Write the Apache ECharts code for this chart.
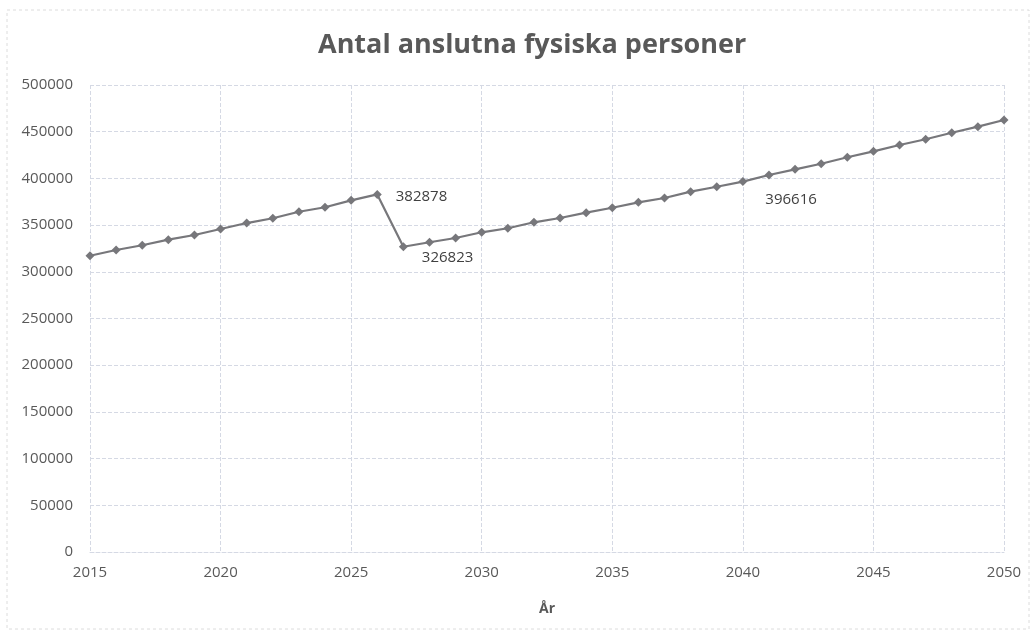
<!DOCTYPE html>
<html>
<head>
<meta charset="utf-8">
<script src="https://cdn.jsdelivr.net/npm/echarts@6/dist/echarts.min.js"></script>
<style>
html,body{margin:0;padding:0;background:#fff;}
#chart{width:1032px;height:632px;}
</style>
</head>
<body>
<div id="chart"></div>
<script>
const years = [2015,2016,2017,2018,2019,2020,2021,2022,2023,2024,2025,2026,2027,2028,2029,2030,2031,2032,2033,2034,2035,2036,2037,2038,2039,2040,2041,2042,2043,2044,2045,2046,2047,2048,2049,2050];
const values = [317200,323300,328400,334400,339400,345800,352200,357300,364300,369100,376500,382878,326823,331600,336200,342300,346600,353000,357600,363300,368600,374400,379000,385800,391100,396616,403600,409700,415700,422600,429000,435800,441900,448900,455400,462500];
const labeledYears = [2026,2027,2040];
const yTicks = [0,50000,100000,150000,200000,250000,300000,350000,400000,450000,500000];
const xTicks = [2015,2020,2025,2030,2035,2040,2045,2050];
const title = 'Antal anslutna fysiska personer';
const xName = 'År';

const labelOffsets = {2026:[9,2], 2027:[9,11], 2040:[13,18]};
const seriesData = years.map((y,i)=>{
  const d = {value:[y, values[i]]};
  if (labeledYears.includes(y)) {
    d.label = {show:true, position:'right', offset:labelOffsets[y], formatter: String(values[i])};
  }
  return d;
});

const gridColor = '#d5d9e4';
const chart = echarts.init(document.getElementById('chart'), null, {renderer:'canvas'});
chart.setOption({
  animation:false,
  backgroundColor:'#ffffff',
  title:{
    text:title, left:313, top:27,
    textStyle:{fontFamily:'Open Sans', fontWeight:'bold', fontSize:27, color:'#595959'}
  },
  graphic:[{
    type:'rect', shape:{x:7,y:10,width:1022,height:619},
    style:{fill:'none', stroke:'#dcdcdc', lineWidth:1, lineDash:[3,3]}, silent:true
  }],
  grid:{left:90, right:28, top:85, bottom:80},
  xAxis:{
    type:'value', min:xTicks[0], max:xTicks[xTicks.length-1], interval:5,
    name:xName, nameLocation:'middle', nameGap:50,
    nameTextStyle:{fontFamily:'Open Sans', fontWeight:'bold', fontSize:14, color:'#595959'},
    axisLine:{show:true, lineStyle:{color:gridColor, type:'dashed'}},
    axisTick:{show:false},
    axisLabel:{fontFamily:'Open Sans', fontSize:15, color:'#595959', margin:13, formatter:v=>String(v)},
    splitLine:{show:true, lineStyle:{color:gridColor, type:'dashed', width:1}}
  },
  yAxis:{
    type:'value', min:yTicks[0], max:yTicks[yTicks.length-1], interval:50000,
    axisLine:{show:false}, axisTick:{show:false},
    axisLabel:{fontFamily:'Open Sans', fontSize:15, color:'#595959', margin:17, formatter:v=>String(v)},
    splitLine:{show:true, lineStyle:{color:gridColor, type:'dashed', width:1}}
  },
  series:[{
    type:'line', data:seriesData,
    symbol:'diamond', symbolSize:9,
    lineStyle:{color:'#77777b', width:2.2},
    itemStyle:{color:'#77777b'},
    label:{show:false, fontFamily:'Open Sans', fontSize:15, color:'#404040'}
  }]
});
</script>
</body>
</html>
